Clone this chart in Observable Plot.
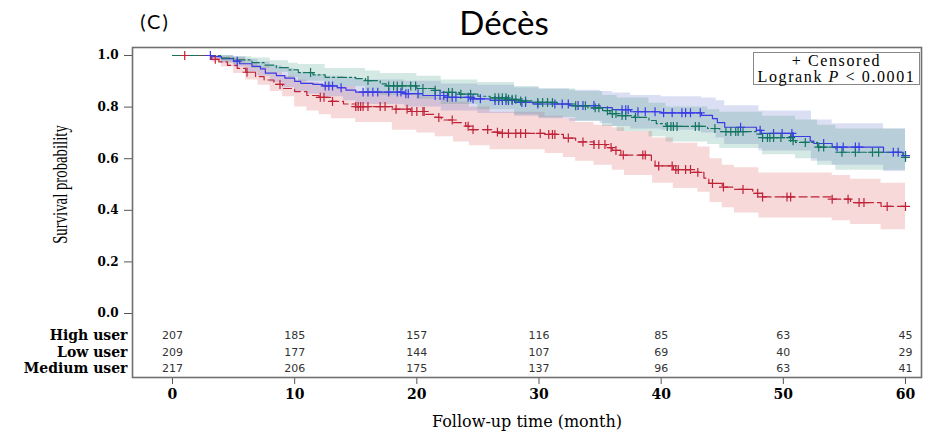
<!DOCTYPE html>
<html><head><meta charset="utf-8">
<script src="https://cdn.jsdelivr.net/npm/d3@7"></script>
<script src="https://cdn.jsdelivr.net/npm/@observablehq/plot@0.6"></script>
<style>
body{margin:0;background:#fff;}
#wrap{position:relative;width:931px;height:431px;overflow:hidden;background:#fff;}
#tag{position:absolute;left:120px;width:70px;top:6px;text-align:center;font-family:Lato,sans-serif;font-size:20px;letter-spacing:2px;line-height:30px;}
#title{position:absolute;left:404px;width:200px;top:2px;text-align:center;font-family:Lato,sans-serif;font-size:33px;line-height:40px;}
#chart{position:absolute;left:0;top:40px;}
#legend{position:absolute;left:753px;top:52px;width:165px;height:31px;border:1.5px solid #888;font-family:"Liberation Serif",serif;font-size:16px;letter-spacing:1.6px;text-align:center;line-height:16px;padding-top:0px;box-sizing:content-box;background:#fff;white-space:nowrap;}
</style></head>
<body><div id="wrap">
<div id="tag">(C)</div>
<div id="title">Décès</div>
<div id="chart"></div>
<div id="legend">+ Censored<br>Logrank <i>P</i> &lt; 0.0001</div>
</div>
<script>
// ---------- data ----------
const groups = ["High user", "Low user", "Medium user"];
const groupColors = ["#3a3ae6", "#c02238", "#137560"];
const bandColors = ["#5a6ec8", "#dc5050", "#3c9682"];

const riskTimes = [0, 10, 20, 30, 40, 50, 60];
const riskHigh = [207, 185, 157, 116, 85, 63, 45];
const riskLow = [209, 177, 144, 107, 69, 40, 29];
const riskMedium = [217, 206, 175, 137, 96, 63, 41];

// Kaplan-Meier steps (time, survival)
const highT = [0,3.2,4,5,5.5,6.5,7.2,7.6,8.5,9.2,10,10.5,11.5,12.3,13.5,14.2,15,19,20.5,22.3,24.5,26,28,29.5,32.5,35,36,37.5,40,43.3,44.2,44.6,45.2,47.8,48.2,50.8,52.2,52.5,54,58.2,59.8,60];
const highS = [1,.996,.988,.978,.968,.958,.948,.932,.922,.912,.9,.892,.888,.882,.875,.866,.858,.852,.845,.838,.832,.826,.818,.812,.806,.798,.79,.782,.778,.768,.755,.74,.722,.71,.698,.686,.668,.659,.645,.625,.612,.612];
const lowT = [0,3.2,3.8,4.5,5.3,6,6.8,7.5,8.3,9,10,11,12,13,14,15,18,19.5,20.7,21.5,22,23,24,24.3,26,27,30.5,32,33,34.5,35.5,36,36.7,39.2,39.5,41,42.5,43.5,43.9,45,46,47.5,48.3,54,55.5,58,60];
const lowS = [1,.985,.975,.962,.95,.935,.918,.905,.888,.872,.86,.845,.838,.822,.812,.802,.792,.783,.772,.76,.75,.74,.726,.713,.703,.698,.694,.68,.665,.655,.643,.632,.614,.592,.572,.558,.547,.525,.504,.49,.481,.466,.452,.443,.43,.415,.415];
const medT = [0,4,5,6.5,7.5,8.5,9.5,10.3,11.5,12.5,15,15.8,17,17.5,20,21.5,22,23.5,25,26,27.5,28.2,29.5,31.5,33,34,35.2,35.8,36.4,37.8,39,39.6,40.4,43.8,44.8,47.8,48.3,50.8,51,52.8,54.3,59.8,60];
const medS = [1,.99,.983,.972,.963,.953,.944,.934,.925,.915,.91,.903,.89,.882,.872,.865,.857,.85,.842,.836,.83,.824,.818,.812,.805,.797,.786,.775,.767,.76,.748,.736,.725,.717,.705,.695,.682,.67,.663,.645,.625,.605,.605];

// confidence bands (time, lower, upper)
const highBandT = [0,3.2,4,5,6,7,8,9,10,11,12.3,14,15,19,22,25,28,30,32.5,35,36,37.5,40,43.3,44.5,45.2,48,52.3,54,58.2,60];
const highBandLo = [1,.985,.97,.955,.935,.92,.895,.875,.86,.85,.84,.825,.81,.8,.785,.775,.765,.755,.745,.735,.725,.715,.71,.7,.68,.655,.63,.59,.575,.55,.535];
const highBandHi = [1,1,1,.995,.985,.975,.96,.95,.935,.925,.92,.915,.905,.9,.89,.885,.875,.87,.865,.86,.855,.845,.84,.835,.825,.805,.785,.75,.735,.715,.7];
const lowBandT = [0,3.2,4,5,6,7,8,9,10,11,12,13,15,18,20,21.5,23,24.3,26,30.5,32,33,34.5,36,37,39.3,41,43,44,45,46,48,54,55.5,58,60];
const lowBandLo = [1,.975,.955,.93,.905,.885,.86,.84,.8,.785,.77,.755,.74,.71,.7,.685,.665,.65,.635,.62,.605,.59,.575,.555,.535,.505,.485,.47,.43,.41,.39,.37,.36,.345,.325,.325];
const lowBandHi = [1,1,.995,.99,.97,.955,.935,.92,.905,.895,.89,.88,.86,.85,.845,.835,.82,.8,.78,.765,.755,.74,.73,.72,.705,.68,.66,.645,.6,.575,.565,.545,.535,.52,.505,.505];
const medBandT = [0,4,5,6.5,8,9.5,10.3,12.5,15.8,17,20,22,25,28,30,33,35.2,36.4,39,40.4,43.8,44.8,48.3,51,52.8,54.3,60];
const medBandLo = [1,.975,.965,.95,.935,.915,.9,.88,.86,.845,.83,.81,.79,.77,.76,.745,.725,.705,.685,.665,.655,.64,.615,.6,.575,.555,.51];
const medBandHi = [1,1,.995,.99,.98,.97,.965,.95,.94,.93,.92,.905,.895,.88,.87,.86,.845,.835,.815,.8,.79,.78,.765,.75,.73,.715,.69];

// censoring times
const highCens = [3.1,5.3,12.5,12.8,13.1,13.8,15.6,16,16.4,16.8,17.7,18.4,18.7,19.1,19.3,20.1,21.5,21.9,22.2,22.5,22.9,23.2,24.2,24.4,24.6,25.2,26.4,26.7,27,27.3,27.5,27.8,28.6,28.9,29.9,31.3,31.9,32.4,33.2,33.6,34.5,36.8,37.1,37.3,38.1,38.7,39.5,40.2,40.9,41.7,42,42.4,43.2,46.5,48.1,49.2,49.9,50.7,50.8,53.3,54.4,54.9,55.9,56.2,59,59.4,60];
const lowCens = [1,3.5,6.1,8.8,12.1,12.4,13.1,15,15.2,15.4,15.6,16,17,17.4,18.3,19.2,19.6,20,20.5,20.6,21.8,22.9,24.2,24.6,25.8,26.6,27,27.5,28.1,28.5,28.9,30.1,30.8,31.1,31.3,32.4,33.6,34.5,34.9,35.4,35.9,36.3,36.9,38.5,38.7,39.8,40.9,41.2,41.4,42,42.4,43,44.2,45.1,46.7,47.9,48.3,50.3,50.6,54,55.3,56.2,56.6,58.5,60];
const medCens = [11.3,16,17.7,18.1,18.4,18.8,19.5,19.9,20.5,21.5,22.6,22.9,23.6,24.4,26.4,26.7,27,27.3,27.5,27.8,28.1,28.5,28.9,29.9,30.3,30.7,31.1,33,33.8,34.6,34.9,35.6,36,36.3,36.8,37.1,37.9,40.5,40.8,41,41.3,42.8,43.1,44.4,45.3,45.7,46.1,46.3,46.7,48.3,48.7,48.9,49.2,49.8,50.6,50.8,51.8,52.9,53.3,54.8,55.9,57.3,57.8,60];

// ---------- build ----------
const series = [
  {T: highT, S: highS, BT: highBandT, BL: highBandLo, BH: highBandHi, C: highCens, risk: riskHigh, dash: null},
  {T: lowT, S: lowS, BT: lowBandT, BL: lowBandLo, BH: lowBandHi, C: lowCens, risk: riskLow, dash: "8,4"},
  {T: medT, S: medS, BT: medBandT, BL: medBandLo, BH: medBandHi, C: medCens, risk: riskMedium, dash: "9,3,2,3"}
];
function survAt(T, S, t) { let v = S[0]; for (let i = 0; i < T.length; i++) { if (T[i] <= t) v = S[i]; else break; } return v; }

const ROW0 = -0.085, ROWSTEP = 0.0647;
const rowY = i => ROW0 - i * ROWSTEP;

const marks = [];
const bandOrder = [1, 0, 2];
for (const k of bandOrder) {
  const s = series[k];
  const rows = s.BT.map((t, i) => ({t, lo: s.BL[i], hi: s.BH[i]}));
  marks.push(Plot.areaY(rows, {x: "t", y1: "lo", y2: "hi", curve: "step-after", fill: bandColors[k], fillOpacity: 0.22}));
}
series.forEach((s, k) => {
  const rows = s.T.map((t, i) => ({t, s: s.S[i]}));
  marks.push(Plot.line(rows, {x: "t", y: "s", curve: "step-after", stroke: groupColors[k], strokeWidth: 1.2, strokeDasharray: s.dash}));
});
series.forEach((s, k) => {
  const rows = s.C.map(t => ({t, s: survAt(s.T, s.S, t)}));
  marks.push(Plot.dot(rows, {x: "t", y: "s", symbol: "plus", r: 3, stroke: groupColors[k], strokeWidth: 1.2}));
});
// risk table
const riskRows = [];
series.forEach((s, k) => riskTimes.forEach((t, j) => riskRows.push({t, row: k, n: s.risk[j]})));
marks.push(Plot.text(riskRows, {x: "t", y: d => rowY(d.row), text: d => String(d.n), fontFamily: "DejaVu Sans", fontSize: 11, fill: "#333", lineAnchor: "middle"}));
marks.push(Plot.text(groups, {frameAnchor: "left", y: (d, i) => rowY(i), text: d => d, dx: -5, textAnchor: "end", lineAnchor: "middle", fontFamily: "DejaVu Serif", fontWeight: "bold", fontSize: 14}));

marks.push(Plot.axisY({ticks: [0, 0.2, 0.4, 0.6, 0.8, 1.0], tickFormat: d3.format(".1f"), tickSize: 8, tickPadding: 6, label: null, fontFamily: "DejaVu Serif", fontWeight: "bold", fontSize: 12, stroke: "#555"}));
marks.push(Plot.axisX({ticks: riskTimes, tickFormat: d => String(d), tickSize: 7, tickPadding: 5, label: null, fontFamily: "DejaVu Serif", fontWeight: "bold", fontSize: 14, stroke: "#555"}));
marks.push(Plot.frame({stroke: "#707070", strokeWidth: 1.6}));
marks.push(Plot.text(["Follow-up time (month)"], {frameAnchor: "bottom", dy: 44, lineAnchor: "middle", fontFamily: "DejaVu Serif", fontSize: 16}));
marks.push(Plot.text(["Survival probability"], {frameAnchor: "left", y: () => 0.5, dx: -72, rotate: -90, textAnchor: "middle", lineAnchor: "middle", fontFamily: "Liberation Serif", fontSize: 20}));

const chart = Plot.plot({
  width: 931,
  height: 391,
  marginTop: 7,
  marginBottom: 54,
  marginLeft: 132,
  marginRight: 10,
  x: {domain: [-3.274, 61.31], axis: null},
  y: {domain: [-0.248, 1.031], axis: null},
  style: {background: "white", color: "#000", fontFamily: "DejaVu Serif", fontSize: "12px", overflow: "visible"},
  marks
});
document.getElementById("chart").appendChild(chart);
// condense rotated y label like the original (narrow serif)
chart.querySelectorAll("text").forEach(t => {
  if (t.textContent === "Survival probability") {
    const tr = t.getAttribute("transform") || "";
    t.setAttribute("transform", tr + " scale(0.74,1)");
  }
});
</script>
</body></html>
